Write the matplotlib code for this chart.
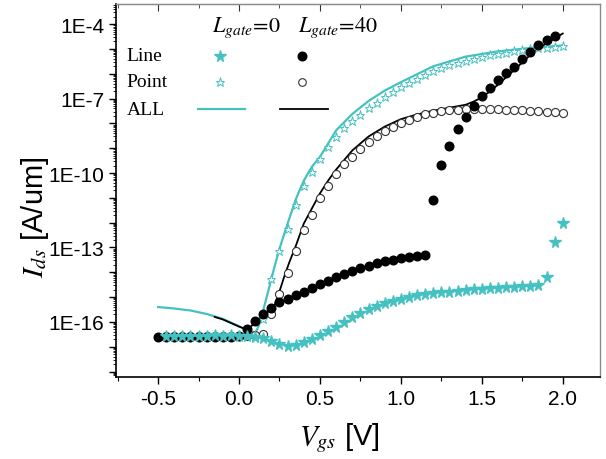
import numpy as np
import matplotlib
matplotlib.use("Agg")
import matplotlib.pyplot as plt
from matplotlib.ticker import FixedLocator, FuncFormatter, MultipleLocator, LogLocator

plt.rcParams["font.family"] = ["Liberation Sans", "DejaVu Sans"]
plt.rcParams["mathtext.fontset"] = "stix"

CYAN = "#45c1c1"

# Lgate=0, "Line" (filled stars), log10(Ids)
x_line0 = np.round(np.arange(-0.45, 2.001, 0.05), 2)
logI_line0 = [-16.56, -16.56, -16.55, -16.55, -16.56, -16.55, -16.54, -16.55, -16.54, -16.55,
              -16.56, -16.61, -16.66, -16.77, -16.88, -16.97, -16.95, -16.80, -16.67, -16.54,
              -16.36, -16.19, -16.02, -15.80, -15.63, -15.48, -15.35, -15.24, -15.16, -15.09,
              -15.01, -14.93, -14.87, -14.84, -14.81, -14.78, -14.75, -14.72, -14.69, -14.67,
              -14.64, -14.62, -14.60, -14.58, -14.56, -14.54, -14.52, -14.19, -12.79, -12.02]

# Lgate=0, "Point" (open stars)
x_point0 = np.round(np.arange(-0.45, 2.001, 0.05), 2)
logI_point0 = [-16.56, -16.56, -16.55, -16.56, -16.55, -16.56, -16.55, -16.55, -16.56, -16.55,
               -16.56, -16.57, -15.88, -14.26, -13.15, -12.24, -11.28, -10.52, -9.96, -9.45,
               -8.94, -8.54, -8.18, -7.92, -7.67, -7.39, -7.17, -6.95, -6.74, -6.54,
               -6.36, -6.20, -6.05, -5.90, -5.78, -5.66, -5.56, -5.47, -5.39, -5.32,
               -5.26, -5.20, -5.15, -5.10, -5.06, -5.02, -4.98, -4.95, -4.92, -4.89]

# Lgate=0, "ALL" (cyan line)
x_all0 = [-0.5, -0.4, -0.3, -0.2, -0.1, 0.0, 0.05, 0.1, 0.12, 0.14, 0.16, 0.18, 0.2, 0.22, 0.25,
          0.3, 0.35, 0.4, 0.45, 0.5, 0.6, 0.7, 0.8, 0.9, 1.0, 1.2, 1.4, 1.6, 1.8, 2.0]
logI_all0 = [-15.40, -15.46, -15.54, -15.68, -15.88, -16.17, -16.34, -16.44, -16.19, -15.78,
             -15.27, -14.77, -14.26, -13.76, -13.05, -12.04, -11.07, -10.31, -9.75, -9.35,
             -8.28, -7.62, -7.10, -6.68, -6.34, -5.70, -5.31, -5.10, -4.96, -4.86]

# Lgate=40, "Line" (filled circles), two branches
x_line40a = np.round(np.arange(-0.5, 1.151, 0.05), 2)
logI_line40a = [-16.60, -16.60, -16.59, -16.60, -16.60, -16.59, -16.60, -16.60, -16.59, -16.60,
                -16.58, -16.29, -15.97, -15.68, -15.44, -15.20, -15.07, -14.91, -14.80, -14.64,
                -14.47, -14.35, -14.19, -14.07, -13.95, -13.83, -13.75, -13.63, -13.55, -13.51,
                -13.43, -13.39, -13.35, -13.32]
x_line40b = np.round(np.arange(1.2, 1.951, 0.05), 2)
logI_line40b = [-11.09, -9.68, -8.91, -8.23, -7.74, -7.31, -6.90, -6.57, -6.25, -5.97,
                -5.71, -5.41, -5.11, -4.84, -4.63, -4.47]

# Lgate=40, "Point" (open circles)
x_point40 = np.round(np.arange(-0.45, 2.001, 0.05), 2)
logI_point40 = [-16.56, -16.55, -16.56, -16.55, -16.56, -16.56, -16.55, -16.56, -16.55, -16.56,
                -16.55, -16.54, -16.50, -15.68, -14.87, -14.01, -13.15, -12.29, -11.68, -11.02,
                -10.54, -10.06, -9.65, -9.35, -9.04, -8.76, -8.51, -8.30, -8.16, -7.98,
                -7.85, -7.73, -7.64, -7.57, -7.51, -7.47, -7.45, -7.43, -7.43, -7.43,
                -7.43, -7.44, -7.45, -7.46, -7.47, -7.49, -7.51, -7.53, -7.55, -7.57]

# Lgate=40, "ALL" (black line)
x_all40 = [-0.15, -0.1, 0.0, 0.05, 0.1, 0.15, 0.2, 0.22, 0.25, 0.28, 0.31, 0.35, 0.4, 0.45, 0.5,
           0.55, 0.6, 0.7, 0.8, 0.9, 1.0, 1.1, 1.2, 1.3, 1.4, 1.45, 1.5, 1.55, 1.6, 1.7, 1.8, 1.9, 2.0]
logI_all40 = [-15.80, -15.90, -16.19, -16.31, -16.04, -15.73, -15.48, -15.32, -14.77, -14.16,
              -13.61, -12.95, -12.04, -11.43, -10.82, -10.31, -9.86, -9.09, -8.53, -8.13,
              -7.83, -7.64, -7.49, -7.37, -7.25, -7.12, -6.95, -6.71, -6.44, -5.85, -5.24,
              -4.76, -4.38]

y_major = [-16, -13, -10, -7, -4]
x_major = [-0.5, 0.0, 0.5, 1.0, 1.5, 2.0]


def p(v):
    return 10.0 ** np.asarray(v)


fig = plt.figure(figsize=(6.06, 4.6), dpi=100)
W, H = 606, 460
L, R, T, B = 116, 600, 5, 378
ax = fig.add_axes([L / W, 1 - B / H, (R - L) / W, (B - T) / H])

ax.plot(x_all0, p(logI_all0), color=CYAN, lw=1.6, zorder=2)
ax.plot(x_all40, p(logI_all40), color="black", lw=1.3, zorder=2)
ax.plot(x_point40, p(logI_point40), ls="none", marker="o", ms=5.8, mfc="white",
        mec="#333333", mew=0.8, zorder=3)
ax.plot(x_point0, p(logI_point0), ls="none", marker="*", ms=6.5, mfc="white",
        mec=CYAN, mew=0.7, zorder=3)
ax.plot(x_line40a, p(logI_line40a), ls="none", marker="o", ms=6.2, color="black", zorder=4)
ax.plot(x_line40b, p(logI_line40b), ls="none", marker="o", ms=6.2, color="black", zorder=4)
ax.plot(x_line0, p(logI_line0), ls="none", marker="*", ms=8.5, color=CYAN, mec=CYAN, zorder=5)

ax.set_yscale("log")
ax.set_xlim(-0.76, 2.23)
ax.set_ylim(10 ** -18.22, 10 ** -3.19)

ax.xaxis.set_major_locator(FixedLocator(x_major))
ax.xaxis.set_minor_locator(MultipleLocator(0.25))
ax.yaxis.set_major_locator(FixedLocator(p(list(range(-18, -3)))))
ax.yaxis.set_minor_locator(LogLocator(base=10, subs=np.arange(2, 10), numticks=40))


def yfmt(v, pos):
    e = int(round(np.log10(v)))
    return f"1E{e}" if e in y_major else ""


ax.yaxis.set_major_formatter(FuncFormatter(yfmt))
ax.yaxis.set_minor_formatter(FuncFormatter(lambda v, pos: ""))
ax.xaxis.set_major_formatter(FuncFormatter(lambda v, pos: f"{v:.1f}"))

ax.tick_params(axis="both", which="major", direction="out", length=5, width=1,
               labelsize=15, top=False, right=False)
ax.tick_params(axis="both", which="minor", direction="out", length=3, width=0.8)
ax.tick_params(axis="y", which="minor", length=2, width=0.6)

sec_x = ax.secondary_xaxis("top")
sec_x.xaxis.set_major_locator(FixedLocator(x_major))
sec_x.xaxis.set_minor_locator(MultipleLocator(0.25))
sec_x.tick_params(which="major", direction="in", length=5, labeltop=False, color="#333333")
sec_x.tick_params(which="minor", direction="in", length=3, color="#333333")
sec_x.spines["top"].set_color("#8a8a8a")

for side in ["top", "right"]:
    ax.spines[side].set_color("#8a8a8a")
    ax.spines[side].set_linewidth(1.0)
for side in ["left", "bottom"]:
    ax.spines[side].set_linewidth(1.2)

ax.set_xlabel(r"$V_{gs}$ [V]", fontsize=21)
ax.xaxis.set_label_coords((339 - L) / (R - L), -0.115)
ax.set_ylabel(r"$I_{ds}$ [A/um]", fontsize=21)
ax.yaxis.set_label_coords(-0.135, 0.43)

# custom legend table
serif = ["Liberation Serif", "DejaVu Serif"]
ax.text(0.27, 0.928, r"$L_{gate}\!=\!0$", transform=ax.transAxes, ha="center",
        va="baseline", fontsize=16, fontstyle="italic")
ax.text(0.458, 0.928, r"$L_{gate}\!=\!40$", transform=ax.transAxes, ha="center",
        va="baseline", fontsize=16, fontstyle="italic")
rows = ["Line", "Point", "ALL"]
row_y = [0.861, 0.791, 0.718]
for label, yy in zip(rows, row_y):
    ax.text(0.022, yy, label, transform=ax.transAxes, ha="left", va="center",
            fontsize=14, family=serif)
ax.plot([0.214], [row_y[0]], transform=ax.transAxes, marker="*", ms=8.5, color=CYAN, ls="none")
ax.plot([0.384], [row_y[0]], transform=ax.transAxes, marker="o", ms=6.2, color="black", ls="none")
ax.plot([0.214], [row_y[1]], transform=ax.transAxes, marker="*", ms=6.5, mfc="white",
        mec=CYAN, mew=0.7, ls="none")
ax.plot([0.384], [row_y[1]], transform=ax.transAxes, marker="o", ms=5.5, mfc="white",
        mec="#333333", mew=0.8, ls="none")
ax.plot([0.169, 0.266], [row_y[2]] * 2, transform=ax.transAxes, color=CYAN, lw=1.6)
ax.plot([0.338, 0.437], [row_y[2]] * 2, transform=ax.transAxes, color="black", lw=1.3)

fig.savefig("out.png", dpi=100)
